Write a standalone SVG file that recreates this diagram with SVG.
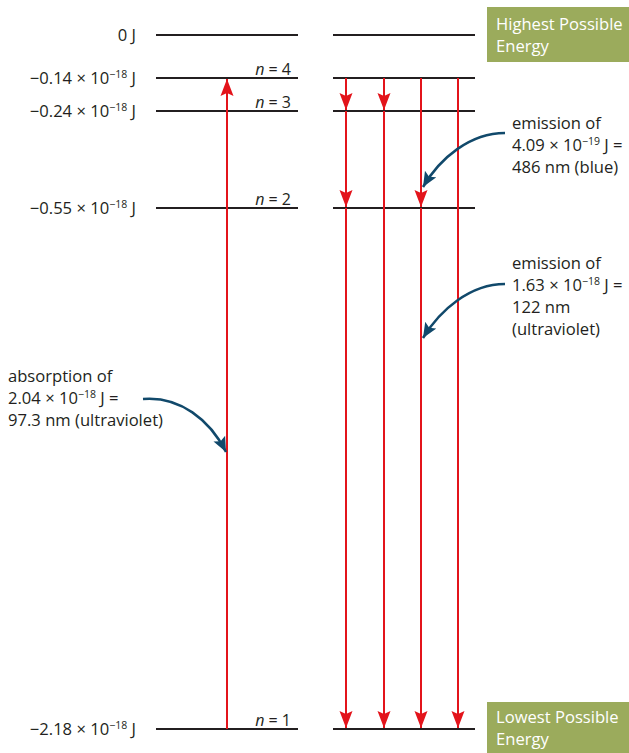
<svg xmlns="http://www.w3.org/2000/svg" width="629" height="753" viewBox="0 0 629 753">
<style>
text{font-family:"Open Sans","Noto Sans",sans-serif;font-size:16.6px;fill:#231f20}
.lvl{stroke:#231f20;stroke-width:2}
.red{stroke:#e3141b;stroke-width:2;fill:none}
.blue{stroke:#11496b;stroke-width:2.5;fill:none}
.box{fill:#9bab5c}
.wt{fill:#ffffff}
.sup{font-size:10.5px}
.n{font-size:16px}
</style>
<defs>
<marker id="ra" markerUnits="userSpaceOnUse" markerWidth="18" markerHeight="14" refX="17" refY="7" orient="auto" viewBox="0 0 18 14">
<path d="M0,0.5 L17,7 L0,13.5 L3,7 z" fill="#e3141b"/>
</marker>
<marker id="ba" markerUnits="userSpaceOnUse" markerWidth="16" markerHeight="14" refX="15" refY="7" orient="auto" viewBox="0 0 16 14">
<path d="M0,0.5 L15,7 L0,13.5 L3,7 z" fill="#11496b"/>
</marker>
</defs>

<g id="levels">
<g id="level-0"><line class="lvl" x1="156" y1="35" x2="298" y2="35"/><line class="lvl" x1="333" y1="35" x2="475" y2="35"/>
<text x="136" y="41" text-anchor="end">0 J</text></g>
<g id="level-n4"><line class="lvl" x1="156" y1="78" x2="298" y2="78"/><line class="lvl" x1="333" y1="78" x2="475" y2="78"/>
<text x="136" y="84" text-anchor="end">−0.14 × 10<tspan class="sup" dy="-6">−18</tspan><tspan dy="6"> J</tspan></text>
<text class="n" x="291" y="75" text-anchor="end"><tspan font-style="italic">n</tspan> = 4</text></g>
<g id="level-n3"><line class="lvl" x1="156" y1="111" x2="298" y2="111"/><line class="lvl" x1="333" y1="111" x2="475" y2="111"/>
<text x="136" y="117" text-anchor="end">−0.24 × 10<tspan class="sup" dy="-6">−18</tspan><tspan dy="6"> J</tspan></text>
<text class="n" x="291" y="108" text-anchor="end"><tspan font-style="italic">n</tspan> = 3</text></g>
<g id="level-n2"><line class="lvl" x1="156" y1="208" x2="298" y2="208"/><line class="lvl" x1="333" y1="208" x2="475" y2="208"/>
<text x="136" y="214" text-anchor="end">−0.55 × 10<tspan class="sup" dy="-6">−18</tspan><tspan dy="6"> J</tspan></text>
<text class="n" x="291" y="205" text-anchor="end"><tspan font-style="italic">n</tspan> = 2</text></g>
<g id="level-n1"><line class="lvl" x1="156" y1="729" x2="298" y2="729"/><line class="lvl" x1="333" y1="729" x2="475" y2="729"/>
<text x="136" y="735" text-anchor="end">−2.18 × 10<tspan class="sup" dy="-6">−18</tspan><tspan dy="6"> J</tspan></text>
<text class="n" x="291" y="726" text-anchor="end"><tspan font-style="italic">n</tspan> = 1</text></g>
</g>

<g id="highest">
<rect class="box" x="487" y="7" width="142" height="55"/>
<text class="wt" x="496" y="30">Highest Possible</text>
<text class="wt" x="496" y="52">Energy</text>
</g>
<g id="lowest">
<rect class="box" x="487" y="702" width="142" height="51"/>
<text class="wt" x="496" y="723">Lowest Possible</text>
<text class="wt" x="496" y="745">Energy</text>
</g>

<g id="label-absorption">
<text x="8" y="382">absorption of</text>
<text x="8" y="404">2.04 × 10<tspan class="sup" dy="-6">−18</tspan><tspan dy="6"> J =</tspan></text>
<text x="8" y="426">97.3 nm (ultraviolet)</text>
</g>
<g id="label-blue">
<text x="512" y="129">emission of</text>
<text x="512" y="151">4.09 × 10<tspan class="sup" dy="-6">−19</tspan><tspan dy="6"> J =</tspan></text>
<text x="512" y="173">486 nm (blue)</text>
</g>
<g id="label-uv">
<text x="512" y="269">emission of</text>
<text x="512" y="291">1.63 × 10<tspan class="sup" dy="-6">−18</tspan><tspan dy="6"> J =</tspan></text>
<text x="512" y="313">122 nm</text>
<text x="512" y="335">(ultraviolet)</text>
</g>

<g id="connectors">
<line class="red" x1="227" y1="729" x2="227" y2="79" marker-end="url(#ra)"/>
<line class="red" x1="346" y1="78" x2="346" y2="110" marker-end="url(#ra)"/>
<line class="red" x1="346" y1="111" x2="346" y2="207" marker-end="url(#ra)"/>
<line class="red" x1="346" y1="208" x2="346" y2="728" marker-end="url(#ra)"/>
<line class="red" x1="384" y1="78" x2="384" y2="110" marker-end="url(#ra)"/>
<line class="red" x1="384" y1="111" x2="384" y2="728" marker-end="url(#ra)"/>
<line class="red" x1="421" y1="78" x2="421" y2="207" marker-end="url(#ra)"/>
<line class="red" x1="421" y1="208" x2="421" y2="728" marker-end="url(#ra)"/>
<line class="red" x1="458" y1="78" x2="458" y2="728" marker-end="url(#ra)"/>
<path class="blue" d="M505,133 C470,133 440,158 423,187" marker-end="url(#ba)"/>
<path class="blue" d="M505,284 C470,284 440,310 423,338" marker-end="url(#ba)"/>
<path class="blue" d="M143,399 C180,396 210,420 226,452" marker-end="url(#ba)"/>
</g>
</svg>
